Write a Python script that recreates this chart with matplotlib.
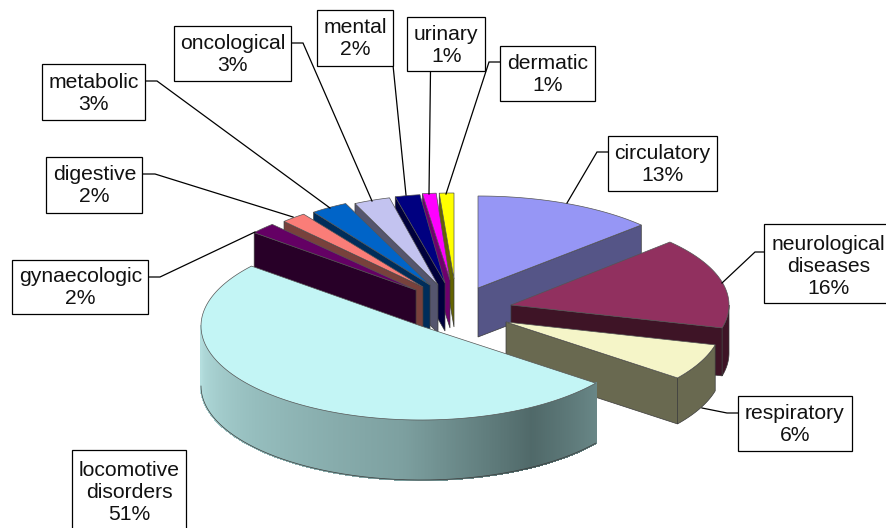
import numpy as np
import matplotlib
matplotlib.use("Agg")
import matplotlib.pyplot as plt
from matplotlib.collections import PolyCollection
from matplotlib.patches import Polygon, Rectangle

plt.rcParams['font.family'] = ['Liberation Sans', 'DejaVu Sans']

# data, clockwise from 12 o'clock
categorias = ["circulatory", "neurological\ndiseases", "respiratory", "locomotive\ndisorders",
              "gynaecologic", "digestive", "metabolic", "oncological", "mental", "urinary", "dermatic"]
valores = [13.0, 16.0, 6.4, 50.6, 2.0, 2.0, 3.0, 3.0, 2.0, 1.0, 1.0]
etiquetas = ["13%", "16%", "6%", "51%", "2%", "2%", "3%", "3%", "2%", "1%", "1%"]

# colours
col_top = ["#9696f5", "#91305f", "#f5f5c8", "#c3f5f5", "#640064", "#fa7d78",
           "#0064c8", "#c3c3f0", "#000080", "#ff00ff", "#ffff00"]
col_wall = ["#555587", "#3e1426", "#696950", "#9bbebe", "#280028", "#78413c",
            "#002d5a", "#55556e", "#00003c", "#6e006e", "#646400"]

# exploded slices: apex of each slice in pixels, ellipse radii and height
apex = [(478, 288), (511, 305), (506, 322), (421, 326), (416, 290), (423, 287),
        (430, 285), (438, 285), (445, 283), (450, 280), (454, 279)]
radio_x = [224, 218, 216, 220, 210, 203, 198, 195, 200, 220, 235]
radio_y = [92, 92, 92, 94, 90, 90, 90, 90, 89, 87, 86]
altura = [49, 48, 46, 60, 48, 48, 48, 48, 48, 48, 48]

# label boxes x0, x1, y0, y1 (the neurological one runs off the right edge)
cajas = [(608, 717, 135.5, 191), (764.5, 892, 224, 303), (738, 852, 396, 451),
         (72, 186, 450, 540), (12, 148.5, 260, 314), (46.5, 142.5, 157, 213),
         (42, 145.5, 64, 120), (174, 291.5, 25.5, 81), (317, 393, 9.5, 65.5),
         (407.5, 485, 17, 71), (500.5, 595.5, 45.5, 101)]
guias = [[(608, 152), (597, 152), (567, 203)],
         [(764.5, 252), (755, 252), (722, 283)],
         [(738, 413), (727, 413), (702, 408)],
         None,
         [(148.5, 277), (160, 277), (255, 232)],
         [(142.5, 174), (155, 174), (293, 217)],
         [(145.5, 81), (157, 81), (330, 208)],
         [(291.5, 43), (303, 43), (372, 201)],
         [(393, 65), (406, 195)],
         [(430.5, 71), (429, 194)],
         [(500.5, 62), (489, 62), (446, 194)]]

# wall gradient for the big slice (angle, grey-teal colour)
grad_ang = [127, 150, 185, 230, 270]
grad_r = [105, 80, 125, 150, 180]
grad_g = [135, 105, 160, 190, 222]
grad_b = [135, 105, 160, 190, 222]

fig = plt.figure(figsize=(8.87, 5.28), dpi=100)
ax = fig.add_axes([0, 0, 1, 1])
ax.set_xlim(0, 887)
ax.set_ylim(528, 0)
ax.axis("off")

total = sum(valores)
inicio = np.cumsum([0] + valores[:-1]) / total * 360
fin = np.cumsum(valores) / total * 360


def punto(i, t):
    t = np.radians(t)
    return apex[i][0] + radio_x[i] * np.sin(t), apex[i][1] - radio_y[i] * np.cos(t)


# back slices first, the big one last
orden = [10, 9, 8, 7, 6, 5, 4, 0, 1, 2, 3]
borde = "#3a3a3a"
z = 2
for i in orden:
    a, b = inicio[i], fin[i]
    h = altura[i]
    ang = np.linspace(a, b, 120)
    xs, ys = punto(i, ang)
    cx, cy = apex[i]

    # flat side walls
    if a >= 180:
        x0, y0 = punto(i, a)
        ax.add_patch(Polygon([(x0, y0), (cx, cy), (cx, cy + h), (x0, y0 + h)], fc=col_wall[i],
                             ec=borde, lw=0.5, zorder=z))
    if b <= 180:
        x1, y1 = punto(i, b)
        ax.add_patch(Polygon([(x1, y1), (cx, cy), (cx, cy + h), (x1, y1 + h)], fc=col_wall[i],
                             ec=borde, lw=0.5, zorder=z))

    # curved wall, only the part that looks to the viewer
    lo, hi = max(a, 90), min(b, 270)
    if hi > lo:
        ang2 = np.linspace(lo, hi, 400)
        xa, ya = punto(i, ang2)
        if i == 3:
            tiras = [[(xa[k], ya[k]), (xa[k + 1], ya[k + 1]), (xa[k + 1], ya[k + 1] + h), (xa[k], ya[k] + h)]
                     for k in range(len(ang2) - 1)]
            colores = np.column_stack([np.interp(ang2[:-1], grad_ang, grad_r),
                                       np.interp(ang2[:-1], grad_ang, grad_g),
                                       np.interp(ang2[:-1], grad_ang, grad_b)]) / 255
            ax.add_collection(PolyCollection(tiras, facecolors=colores, edgecolors=colores, lw=1.0,
                                             antialiaseds=False, zorder=z))
            ax.plot(xa, ya + h, color=borde, lw=0.5, zorder=z)
        else:
            pared = list(zip(xa, ya)) + list(zip(xa[::-1], ya[::-1] + h))
            ax.add_patch(Polygon(pared, fc=col_wall[i], ec=borde, lw=0.5, zorder=z))

    # top face
    ax.add_patch(Polygon([(cx, cy)] + list(zip(xs, ys)), fc=col_top[i], ec="#555555", lw=0.5, zorder=z + 0.5))
    z += 1

# leader lines and boxes
for i in range(len(categorias)):
    if guias[i] is not None:
        gx, gy = zip(*guias[i])
        ax.plot(gx, gy, color="black", lw=0.9, zorder=40, solid_joinstyle="miter")
    x0, x1, y0, y1 = cajas[i]
    ax.add_patch(Rectangle((x0, y0), x1 - x0, y1 - y0, fc="white", ec="black", lw=0.9, zorder=41))
    if "\n" in categorias[i]:
        yc = y0 + 42.5
    else:
        yc = (y0 + y1) / 2 + 1
    ax.text((x0 + x1) / 2, yc, categorias[i] + "\n" + etiquetas[i], ha="center", va="center",
            fontsize=15.2, color="#111111", linespacing=1.2, zorder=42)

fig.savefig("out.png", dpi=100)
